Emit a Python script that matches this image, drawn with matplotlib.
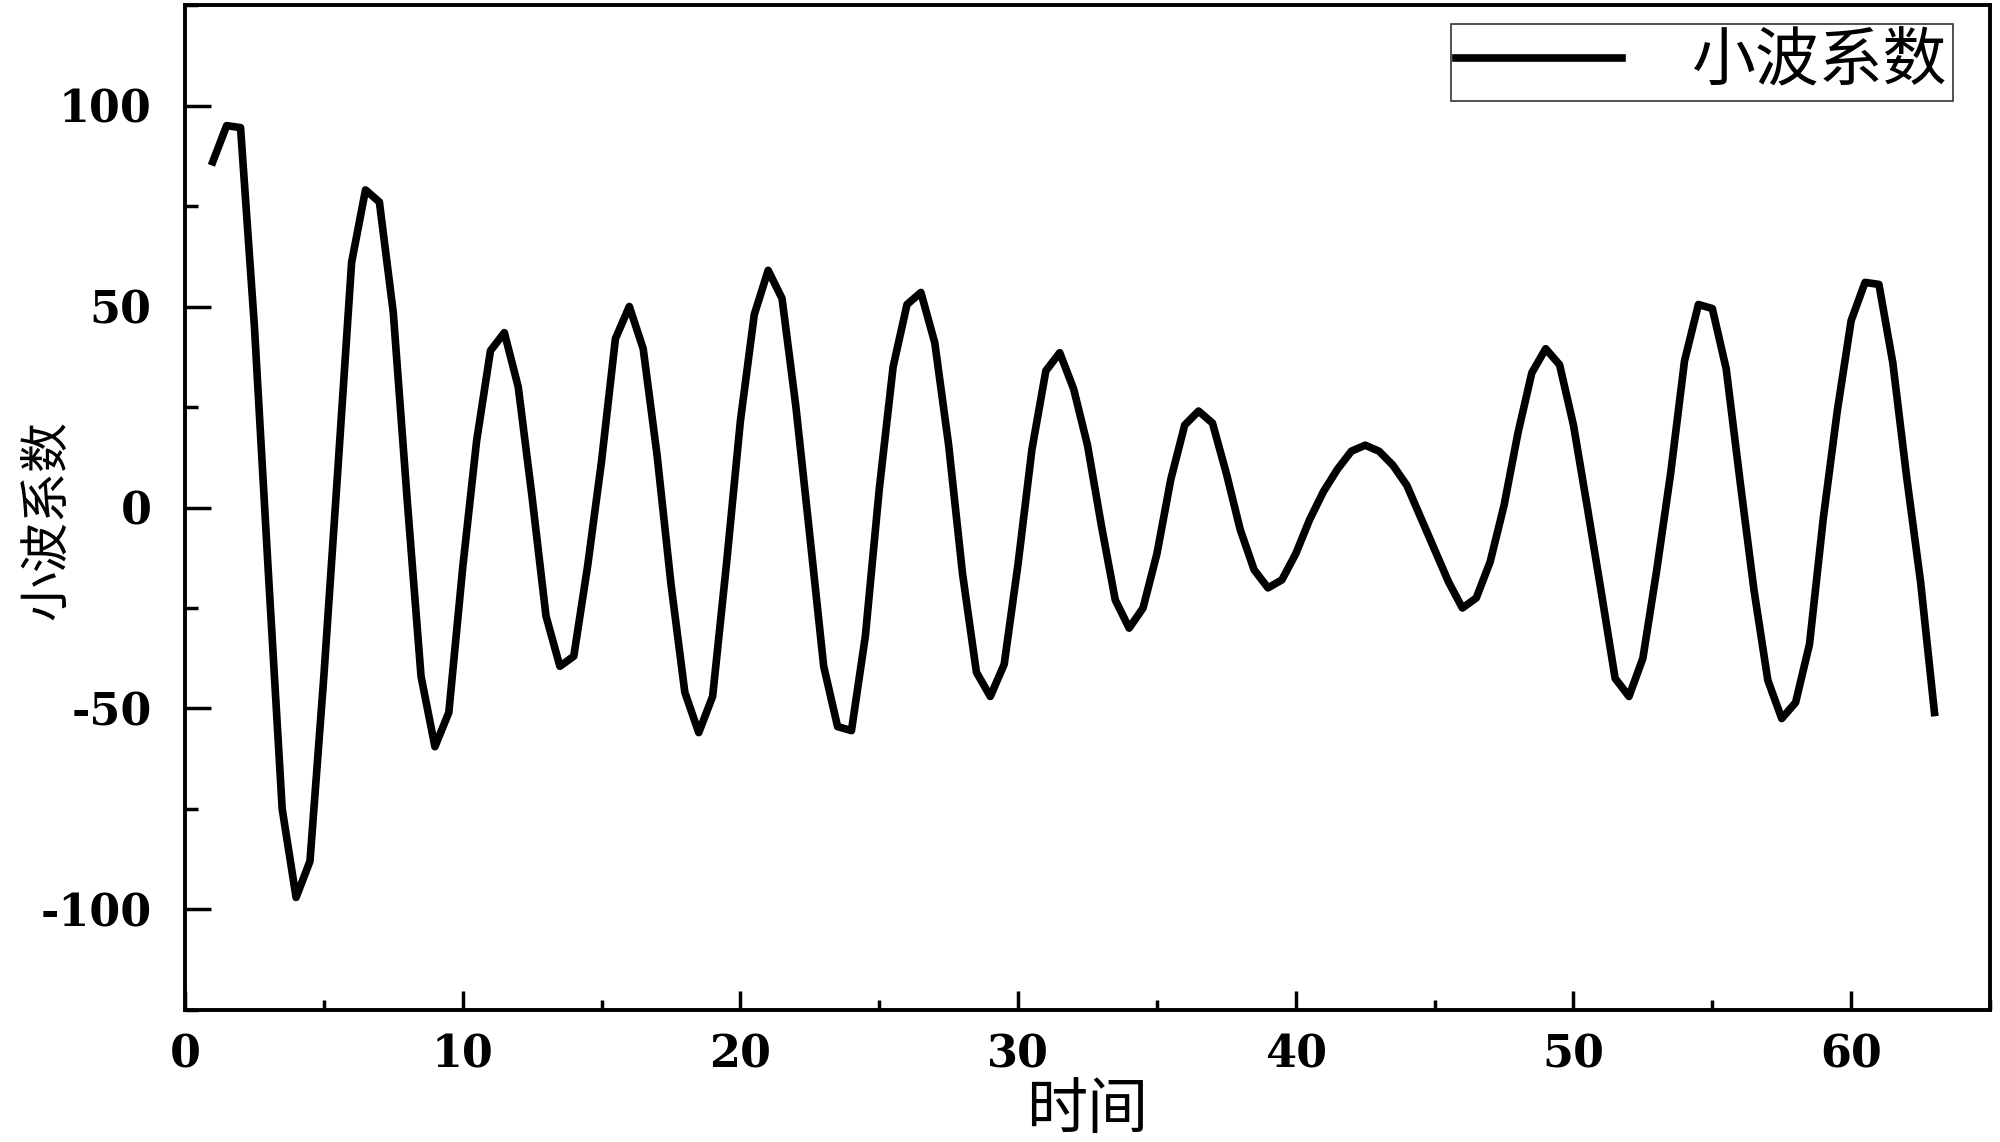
import numpy as np
import matplotlib
matplotlib.use('Agg')
import matplotlib.pyplot as plt
from matplotlib.ticker import MultipleLocator

plt.rcParams['font.family'] = ['Noto Sans CJK SC', 'DejaVu Sans']
plt.rcParams['axes.unicode_minus'] = False

# time axis, half-unit steps from 1 to 63
t = np.arange(1, 63.5, 0.5)

# wavelet coefficients
coef = [
    86, 95, 94.5, 45, -16, -75, -97, -88, -42, 9,
    61, 79, 76, 48.5, 2, -42, -59.5, -51, -15, 16.5,
    39, 43.5, 30, 2.5, -27, -39.5, -37, -14.5, 11.5, 42,
    50, 39.5, 13, -19, -46, -56, -47, -14, 21.5, 48,
    59, 52, 25, -7, -39.5, -54.5, -55.5, -32, 4.5, 35,
    50.5, 53.5, 41, 15.5, -16.5, -41, -47, -39, -14, 14.5,
    34, 38.5, 29.5, 15.5, -4.5, -23, -30, -25, -11.5, 7,
    20.5, 24, 21, 8.5, -5.5, -15.5, -20, -18, -11.5, -3,
    4, 9.5, 14, 15.5, 14, 10.5, 5.5, -2.5, -10.5, -18.5,
    -25, -22.5, -13.5, 0.5, 18.5, 33.5, 39.5, 35.5, 20.5, 0,
    -21, -42.5, -47, -37.5, -15.5, 8.5, 36.5, 50.5, 49.5, 34.5,
    6.5, -20.5, -43, -52.5, -48.5, -34, -2.5, 24, 46.5, 56,
    55.5, 36, 7.5, -18.5, -51,
]

xticks = [0, 10, 20, 30, 40, 50, 60]
yticks = [-100, -50, 0, 50, 100]

fig = plt.figure(figsize=(20, 11.42), dpi=100)
ax = fig.add_axes([0.0925, 0.1156, 0.9025, 0.88])

ax.plot(t, coef, color='black', linewidth=5.5, label='小波系数')

ax.set_xlim(0, 65)
ax.set_ylim(-125, 125)
ax.set_xticks(xticks)
ax.set_yticks(yticks)
ax.xaxis.set_minor_locator(MultipleLocator(5))
ax.yaxis.set_minor_locator(MultipleLocator(25))

for s in ax.spines.values():
    s.set_linewidth(2.8)

ax.tick_params(axis='x', which='major', direction='in', length=14, width=2.5, pad=17)
ax.tick_params(axis='x', which='minor', direction='in', length=7, width=2.5)
ax.tick_params(axis='y', which='major', direction='in', length=19, width=2.5, pad=24)
ax.tick_params(axis='y', which='minor', direction='in', length=9.5, width=2.5)

for lab in ax.get_xticklabels() + ax.get_yticklabels():
    lab.set_fontfamily('DejaVu Serif')
    lab.set_fontweight('bold')
    lab.set_fontsize(32)

ax.set_xlabel('时间', fontsize=44, labelpad=2)
ax.set_ylabel('小波系数', fontsize=36)
ax.yaxis.set_label_coords(-0.062, 0.4876)

leg = ax.legend(loc='upper right', bbox_to_anchor=(0.9795, 0.981), borderaxespad=0,
                fontsize=46, handlelength=2.6, handletextpad=1.1, borderpad=0.08,
                fancybox=False, edgecolor='#333333', framealpha=1)
leg.get_frame().set_linewidth(1.2)

fig.savefig('out.png', dpi=100)
